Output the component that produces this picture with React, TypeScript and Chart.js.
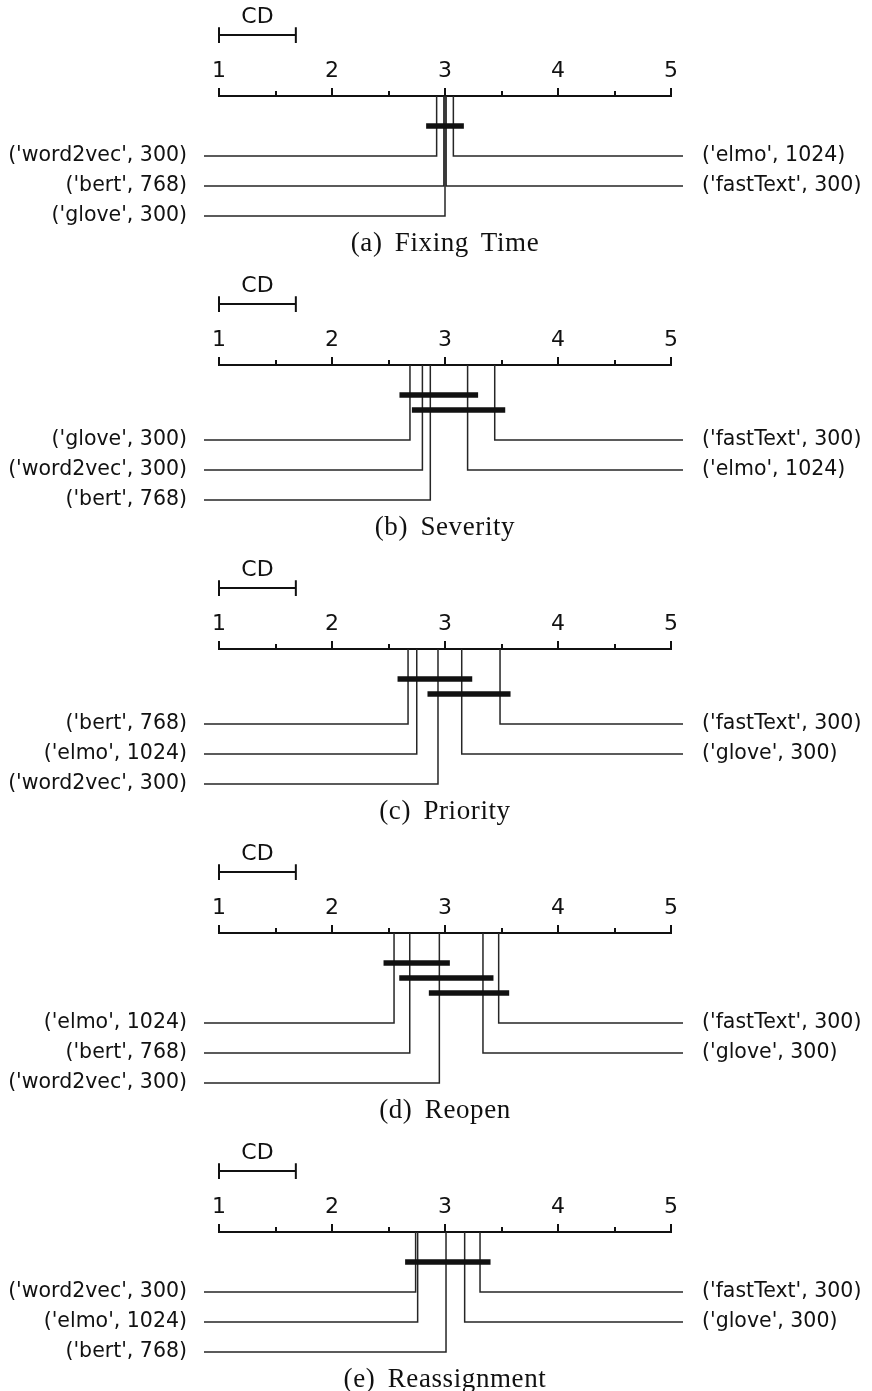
import React, { useEffect, useRef } from "react";
import { Chart, registerables } from "chart.js";

Chart.register(...registerables);

// ---------- data ----------
const AXIS_MIN = 1;
const AXIS_MAX = 5;
const AXIS_TICKS = [1, 2, 3, 4, 5];
const MINOR_TICKS = [1.5, 2.5, 3.5, 4.5];
const CD_VALUE = 0.68;
const CD_LABEL = "CD";

const fixingTitle = "(a) Fixing Time";
const fixingNames = ["('word2vec', 300)", "('bert', 768)", "('glove', 300)", "('fastText', 300)", "('elmo', 1024)"];
const fixingRanks = [2.926, 2.99, 3.0, 3.01, 3.074];
const fixingCliques = [[0, 4]];

const severityTitle = "(b) Severity";
const severityNames = ["('glove', 300)", "('word2vec', 300)", "('bert', 768)", "('elmo', 1024)", "('fastText', 300)"];
const severityRanks = [2.69, 2.8, 2.87, 3.2, 3.44];
const severityCliques = [[0, 3], [1, 4]];

const priorityTitle = "(c) Priority";
const priorityNames = ["('bert', 768)", "('elmo', 1024)", "('word2vec', 300)", "('glove', 300)", "('fastText', 300)"];
const priorityRanks = [2.673, 2.75, 2.938, 3.148, 3.487];
const priorityCliques = [[0, 3], [2, 4]];

const reopenTitle = "(d) Reopen";
const reopenNames = ["('elmo', 1024)", "('bert', 768)", "('word2vec', 300)", "('glove', 300)", "('fastText', 300)"];
const reopenRanks = [2.549, 2.688, 2.95, 3.336, 3.475];
const reopenCliques = [[0, 2], [1, 3], [2, 4]];

const reassignTitle = "(e) Reassignment";
const reassignNames = ["('word2vec', 300)", "('elmo', 1024)", "('bert', 768)", "('glove', 300)", "('fastText', 300)"];
const reassignRanks = [2.74, 2.758, 3.009, 3.174, 3.31];
const reassignCliques = [[0, 4]];

// ---------- style / layout ----------
const SANS = "'DejaVu Sans', sans-serif";
const SERIF = "'Liberation Serif', serif";
const INK = "#111111";
const LINE = "#262626";
const UNIT = 30; // px per level on the vertical scale
const AXIS_OFFSET = 96; // px from panel top to the axis line
const X_AXIS_H = 44;
const LEFT_W = 219;
const RIGHT_W = 201;
const OVER_L = 15 / 113; // lead lines extend beyond the axis ends (rank units)
const OVER_R = 12 / 113;
const CLIQUE_OVER = 0.093;
const CD_LEVEL = -2.03;
const CD_TEXT_LEVEL = -2.63;
const CD_CAP = 0.26;
const CAPTION_H = 38;

type PanelDef = { title: string; names: string[]; ranks: number[]; cliques: number[][] };

const PANELS: PanelDef[] = [
  { title: fixingTitle, names: fixingNames, ranks: fixingRanks, cliques: fixingCliques },
  { title: severityTitle, names: severityNames, ranks: severityRanks, cliques: severityCliques },
  { title: priorityTitle, names: priorityNames, ranks: priorityRanks, cliques: priorityCliques },
  { title: reopenTitle, names: reopenNames, ranks: reopenRanks, cliques: reopenCliques },
  { title: reassignTitle, names: reassignNames, ranks: reassignRanks, cliques: reassignCliques },
];

function panelGeometry(p: PanelDef) {
  const nBars = p.cliques.length;
  const rowStart = 1.5 + 0.5 * nBars;
  const yMax = rowStart + 2.5;
  const canvasH = AXIS_OFFSET + yMax * UNIT;
  return { rowStart, yMax, canvasH };
}

const overlayPlugin = {
  id: "cdOverlay",
  afterDraw(chart: any) {
    const xs = chart.scales.x;
    const ys = chart.scales.y;
    const ctx = chart.ctx;
    const top = chart.chartArea.top;
    ctx.save();
    ctx.strokeStyle = INK;
    ctx.lineWidth = 2;
    AXIS_TICKS.forEach((v) => {
      const px = Math.round(xs.getPixelForValue(v));
      ctx.beginPath();
      ctx.moveTo(px, top);
      ctx.lineTo(px, top - 8);
      ctx.stroke();
    });
    MINOR_TICKS.forEach((v) => {
      const px = Math.round(xs.getPixelForValue(v));
      ctx.beginPath();
      ctx.moveTo(px, top);
      ctx.lineTo(px, top - 5);
      ctx.stroke();
    });
    ctx.fillStyle = INK;
    ctx.font = `22px ${SANS}`;
    ctx.textAlign = "center";
    ctx.textBaseline = "middle";
    ctx.fillText(CD_LABEL, xs.getPixelForValue(AXIS_MIN + CD_VALUE / 2), ys.getPixelForValue(CD_TEXT_LEVEL));
    ctx.restore();
  },
};

function Panel({ p }: { p: PanelDef }) {
  const ref = useRef<HTMLCanvasElement | null>(null);
  const { rowStart, yMax, canvasH } = panelGeometry(p);

  useEffect(() => {
    if (!ref.current) return;
    const n = p.ranks.length;
    const nLeft = Math.ceil(n / 2);
    const leftRows: number[] = [];
    const leftNames: string[] = [];
    const rightRows: number[] = [];
    const rightNames: string[] = [];

    const datasets: any[] = [];
    // clique bars (drawn on top)
    p.cliques.forEach((c, k) => {
      const lvl = 1 + 0.5 * k;
      datasets.push({
        data: [
          { x: p.ranks[c[0]] - CLIQUE_OVER, y: lvl },
          { x: p.ranks[c[1]] + CLIQUE_OVER, y: lvl },
        ],
        borderColor: INK,
        borderWidth: 5.5,
        borderCapStyle: "butt",
      });
    });
    // method lines
    p.ranks.forEach((r, i) => {
      const isLeft = i < nLeft;
      const row = isLeft ? rowStart + i : rowStart + (n - 1 - i);
      const endX = isLeft ? AXIS_MIN - OVER_L : AXIS_MAX + OVER_R;
      if (isLeft) {
        leftRows.push(row);
        leftNames.push(p.names[i]);
      } else {
        rightRows.push(row);
        rightNames.push(p.names[i]);
      }
      datasets.push({
        data: [
          { x: r, y: 0 },
          { x: r, y: row },
          { x: endX, y: row },
        ],
        borderColor: LINE,
        borderWidth: 1.5,
        borderJoinStyle: "miter",
      });
    });
    const rightPairs = rightRows.map((r, i) => ({ r, name: rightNames[i] })).sort((a, b) => a.r - b.r);
    const rRows = rightPairs.map((q) => q.r);
    const rNames = rightPairs.map((q) => q.name);

    // CD bar
    datasets.push({
      data: [
        { x: AXIS_MIN, y: CD_LEVEL },
        { x: AXIS_MIN + CD_VALUE, y: CD_LEVEL },
      ],
      borderColor: INK,
      borderWidth: 2,
    });
    datasets.push({
      data: [
        { x: AXIS_MIN, y: CD_LEVEL - CD_CAP },
        { x: AXIS_MIN, y: CD_LEVEL + CD_CAP },
      ],
      borderColor: INK,
      borderWidth: 2,
    });
    datasets.push({
      data: [
        { x: AXIS_MIN + CD_VALUE, y: CD_LEVEL - CD_CAP },
        { x: AXIS_MIN + CD_VALUE, y: CD_LEVEL + CD_CAP },
      ],
      borderColor: INK,
      borderWidth: 2,
    });

    datasets.forEach((d) => {
      d.showLine = true;
      d.pointRadius = 0;
      d.pointHoverRadius = 0;
      d.clip = false;
      d.fill = false;
      d.tension = 0;
    });

    const labelFont = { family: SANS, size: 20.5 };

    const chart = new Chart(ref.current, {
      type: "scatter",
      data: { datasets },
      options: {
        animation: false,
        responsive: false,
        devicePixelRatio: 1,
        events: [],
        layout: { padding: { top: AXIS_OFFSET - X_AXIS_H, bottom: 0, left: 0, right: 0 } },
        plugins: { legend: { display: false }, tooltip: { enabled: false }, title: { display: false } },
        scales: {
          x: {
            type: "linear",
            position: "top",
            min: AXIS_MIN,
            max: AXIS_MAX,
            afterBuildTicks: (s: any) => {
              s.ticks = AXIS_TICKS.map((v) => ({ value: v }));
            },
            ticks: {
              font: { family: SANS, size: 22 },
              color: INK,
              padding: 12,
              autoSkip: false,
              maxRotation: 0,
              callback: (v: any) => String(v),
            },
            grid: { display: false, drawTicks: false },
            border: { display: true, color: INK, width: 2 },
            afterFit: (s: any) => {
              s.height = X_AXIS_H;
            },
          },
          y: {
            type: "linear",
            position: "left",
            min: 0,
            max: yMax,
            reverse: true,
            afterBuildTicks: (s: any) => {
              s.ticks = leftRows.map((v) => ({ value: v }));
            },
            ticks: {
              font: labelFont,
              color: INK,
              padding: 32,
              autoSkip: false,
              callback: (_v: any, i: number) => leftNames[i],
            },
            grid: { display: false, drawTicks: false },
            border: { display: false },
            afterFit: (s: any) => {
              s.width = LEFT_W;
              s.paddingTop = 0;
              s.paddingBottom = 0;
            },
          },
          y2: {
            type: "linear",
            position: "right",
            min: 0,
            max: yMax,
            reverse: true,
            afterBuildTicks: (s: any) => {
              s.ticks = rRows.map((v) => ({ value: v }));
            },
            ticks: {
              font: labelFont,
              color: INK,
              padding: 31,
              autoSkip: false,
              callback: (_v: any, i: number) => rNames[i],
            },
            grid: { display: false, drawTicks: false },
            border: { display: false },
            afterFit: (s: any) => {
              s.width = RIGHT_W;
              s.paddingTop = 0;
              s.paddingBottom = 0;
            },
          },
        },
      } as any,
      plugins: [overlayPlugin],
    });
    return () => chart.destroy();
  }, [p]);

  return (
    <div style={{ position: "relative", width: 872 }}>
      <canvas ref={ref} width={872} height={canvasH} style={{ display: "block", width: 872, height: canvasH }} />
      <div
        style={{
          width: 890,
          height: CAPTION_H,
          textAlign: "center",
          fontFamily: SERIF,
          fontSize: 27,
          lineHeight: "23px",
          letterSpacing: "0.6px",
          wordSpacing: "5px",
          color: INK,
          whiteSpace: "nowrap",
        }}
      >
        {p.title}
      </div>
    </div>
  );
}

export default function App() {
  return (
    <div style={{ position: "absolute", left: 0, top: 0, width: 872, background: "#fff" }}>
      {PANELS.map((p) => (
        <Panel key={p.title} p={p} />
      ))}
    </div>
  );
}
